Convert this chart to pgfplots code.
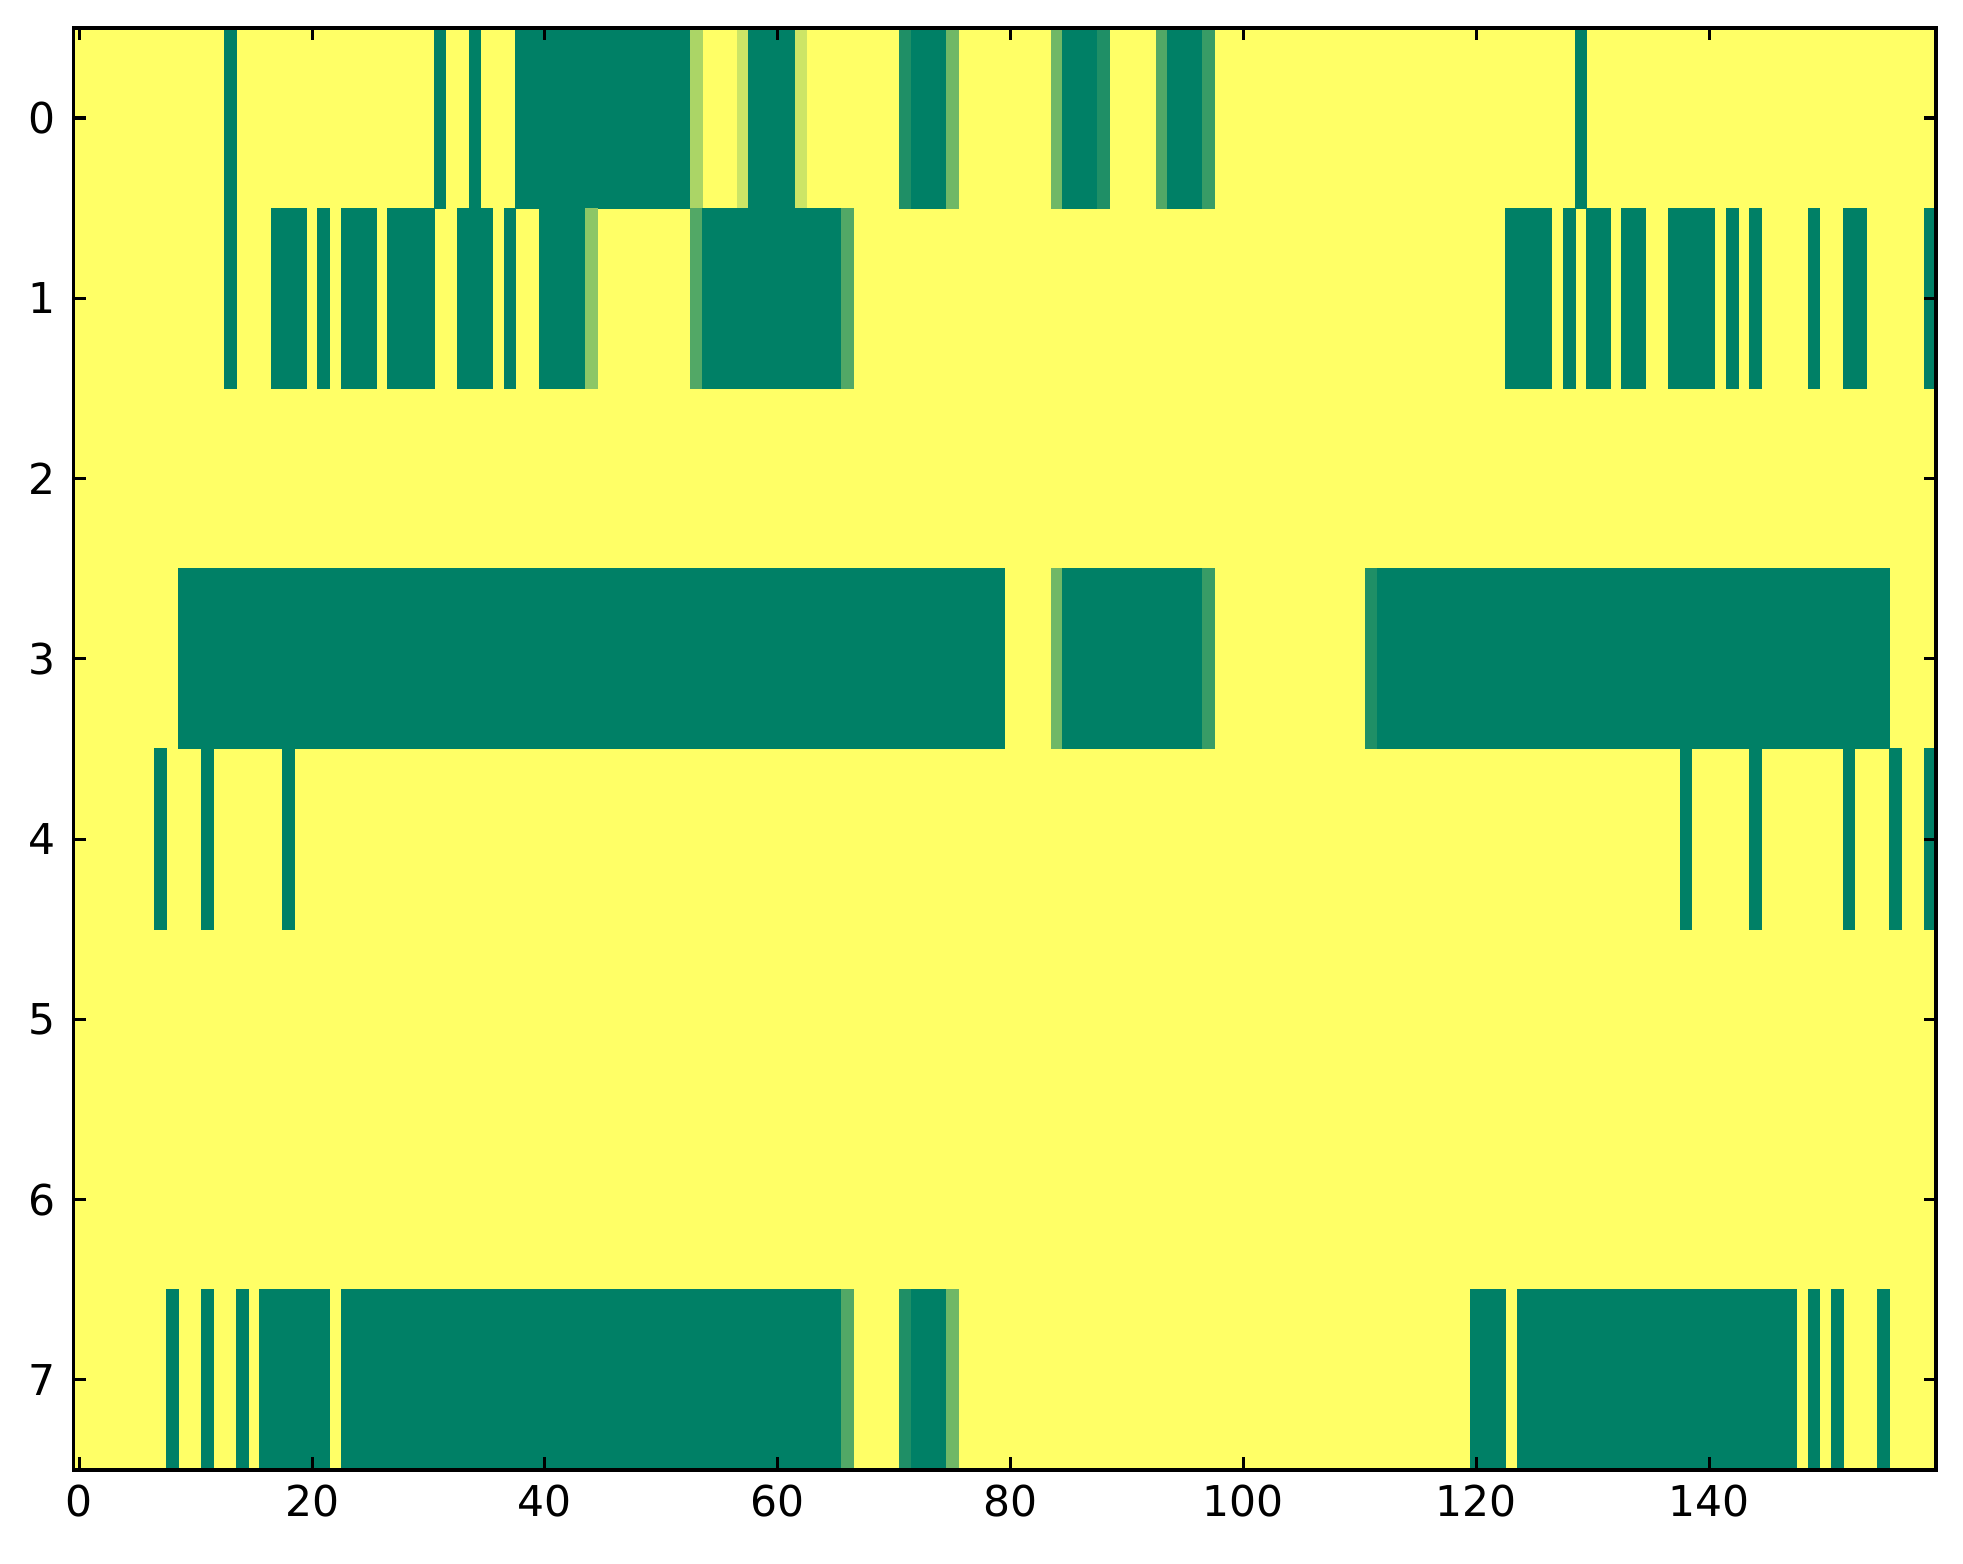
\documentclass[border=0pt]{standalone}
\usepackage{pgfplots}
\pgfplotsset{compat=1.18}
\usepackage{fontspec}
\setmainfont{DejaVu Sans}
\definecolor{Y}{rgb}{1,1,0.4}
\definecolor{G}{rgb}{0,0.5,0.4}
\definecolor{vA}{rgb}{0.12,0.56,0.4}
\definecolor{vB}{rgb}{0.22,0.61,0.4}
\definecolor{vC}{rgb}{0.32,0.66,0.4}
\definecolor{vD}{rgb}{0.44,0.72,0.4}
\definecolor{vE}{rgb}{0.55,0.775,0.4}
\definecolor{vF}{rgb}{0.67,0.835,0.4}
\definecolor{vH}{rgb}{0.8,0.9,0.4}
% cell run: x0 x1 y0 y1 colour
\newcommand\cell[5]{\addplot[fill=#5,draw=#5,line width=0.3pt,mark=none] coordinates {(#1,#3) (#2,#3) (#2,#4) (#1,#4)} --cycle;}
\begin{document}
\begin{tikzpicture}
\begin{axis}[
  name=ax,
  scale only axis,
  width=548.2pt, height=424.4pt,
  xmin=-0.5, xmax=159.5, ymin=-0.5, ymax=7.5,
  y dir=reverse,
  axis on top,
  xtick={0,20,40,60,80,100,120,140},
  ytick={0,1,2,3,4,5,6,7},
  tick pos=both, tick align=inside,
  major tick length=3.7pt,
  tick style={black, line width=0.9pt},
  axis line style={black, line width=1.1pt},
  ticklabel style={font=\fontsize{12.5}{14}\selectfont},
  /pgf/number format/assume math mode=true,
  xticklabel style={yshift=-1.0pt},
  yticklabel style={xshift=-1.8pt},
]
% background: value 1 everywhere
\cell{-0.5}{159.5}{-0.5}{7.5}{Y}
% row 0
\cell{12.5}{13.5}{-0.5}{0.5}{G}
\cell{30.5}{31.5}{-0.5}{0.5}{G}
\cell{33.5}{34.5}{-0.5}{0.5}{G}
\cell{37.5}{52.5}{-0.5}{0.5}{G}
\cell{52.5}{53.5}{-0.5}{0.5}{vF}
\cell{56.5}{57.5}{-0.5}{0.5}{vH}
\cell{57.5}{61.5}{-0.5}{0.5}{G}
\cell{61.5}{62.5}{-0.5}{0.5}{vH}
\cell{70.5}{71.5}{-0.5}{0.5}{vA}
\cell{71.5}{74.5}{-0.5}{0.5}{G}
\cell{74.5}{75.5}{-0.5}{0.5}{vD}
\cell{83.5}{84.5}{-0.5}{0.5}{vD}
\cell{84.5}{87.5}{-0.5}{0.5}{G}
\cell{87.5}{88.5}{-0.5}{0.5}{vA}
\cell{92.5}{93.5}{-0.5}{0.5}{vC}
\cell{93.5}{96.5}{-0.5}{0.5}{G}
\cell{96.5}{97.5}{-0.5}{0.5}{vB}
\cell{128.5}{129.5}{-0.5}{0.5}{G}
% row 1
\cell{12.5}{13.5}{0.5}{1.5}{G}
\cell{16.5}{19.5}{0.5}{1.5}{G}
\cell{20.5}{21.5}{0.5}{1.5}{G}
\cell{22.5}{25.5}{0.5}{1.5}{G}
\cell{26.5}{30.5}{0.5}{1.5}{G}
\cell{32.5}{35.5}{0.5}{1.5}{G}
\cell{36.5}{37.5}{0.5}{1.5}{G}
\cell{39.5}{43.5}{0.5}{1.5}{G}
\cell{43.5}{44.5}{0.5}{1.5}{vE}
\cell{52.5}{53.5}{0.5}{1.5}{vC}
\cell{53.5}{65.5}{0.5}{1.5}{G}
\cell{65.5}{66.5}{0.5}{1.5}{vC}
\cell{122.5}{126.5}{0.5}{1.5}{G}
\cell{127.5}{128.5}{0.5}{1.5}{G}
\cell{129.5}{131.5}{0.5}{1.5}{G}
\cell{132.5}{134.5}{0.5}{1.5}{G}
\cell{136.5}{140.5}{0.5}{1.5}{G}
\cell{141.5}{142.5}{0.5}{1.5}{G}
\cell{143.5}{144.5}{0.5}{1.5}{G}
\cell{148.5}{149.5}{0.5}{1.5}{G}
\cell{151.5}{153.5}{0.5}{1.5}{G}
\cell{158.5}{159.5}{0.5}{1.5}{G}
% row 3
\cell{8.5}{79.5}{2.5}{3.5}{G}
\cell{83.5}{84.5}{2.5}{3.5}{vD}
\cell{84.5}{96.5}{2.5}{3.5}{G}
\cell{96.5}{97.5}{2.5}{3.5}{vB}
\cell{110.5}{111.5}{2.5}{3.5}{vA}
\cell{111.5}{155.5}{2.5}{3.5}{G}
% row 4
\cell{6.5}{7.5}{3.5}{4.5}{G}
\cell{10.5}{11.5}{3.5}{4.5}{G}
\cell{17.5}{18.5}{3.5}{4.5}{G}
\cell{137.5}{138.5}{3.5}{4.5}{G}
\cell{143.5}{144.5}{3.5}{4.5}{G}
\cell{151.5}{152.5}{3.5}{4.5}{G}
\cell{155.5}{156.5}{3.5}{4.5}{G}
\cell{158.5}{159.5}{3.5}{4.5}{G}
% row 7
\cell{7.5}{8.5}{6.5}{7.5}{G}
\cell{10.5}{11.5}{6.5}{7.5}{G}
\cell{13.5}{14.5}{6.5}{7.5}{G}
\cell{15.5}{21.5}{6.5}{7.5}{G}
\cell{22.5}{65.5}{6.5}{7.5}{G}
\cell{65.5}{66.5}{6.5}{7.5}{vC}
\cell{70.5}{71.5}{6.5}{7.5}{vA}
\cell{71.5}{74.5}{6.5}{7.5}{G}
\cell{74.5}{75.5}{6.5}{7.5}{vD}
\cell{119.5}{122.5}{6.5}{7.5}{G}
\cell{123.5}{147.5}{6.5}{7.5}{G}
\cell{148.5}{149.5}{6.5}{7.5}{G}
\cell{150.5}{151.5}{6.5}{7.5}{G}
\cell{154.5}{155.5}{6.5}{7.5}{G}
\end{axis}
\path ([xshift=-21.6pt,yshift=-27.4pt]ax.south west) rectangle ([xshift=7.9pt,yshift=8.2pt]ax.north east);
\end{tikzpicture}
\end{document}
